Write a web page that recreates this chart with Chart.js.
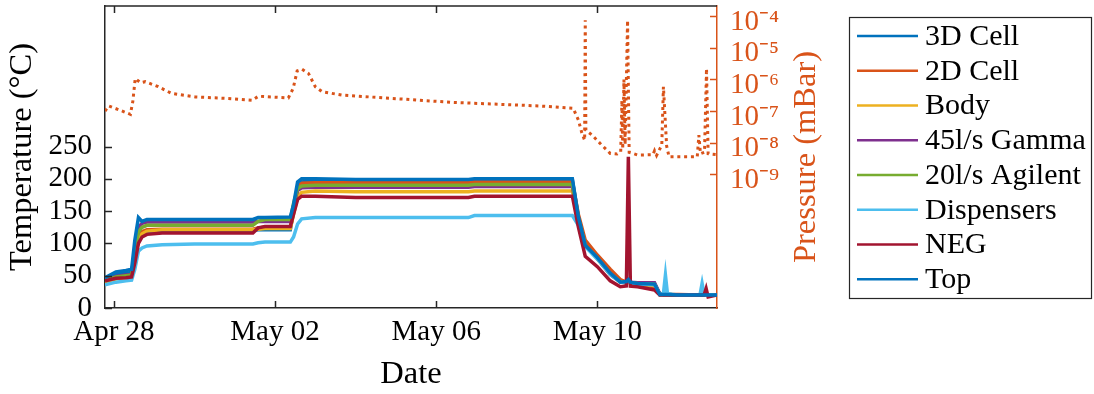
<!DOCTYPE html>
<html><head><meta charset="utf-8">
<script src="https://cdn.jsdelivr.net/npm/chart.js@4/dist/chart.umd.min.js"></script>
<style>html,body{margin:0;padding:0;background:#fff;} #wrap{width:1094px;height:394px;position:relative;}</style>
</head><body><div id="wrap"><canvas id="c" width="1094" height="394"></canvas></div>
<script>
// time in days since Apr 28 00:00
const days = [-0.22, 0.05, 0.30, 0.44, 0.52, 0.61, 0.70, 0.82, 1.20, 2.00,
  3.45, 3.58, 3.75, 4.38, 4.46, 4.56, 4.66, 5.00, 6.00, 7.00,
  8.80, 8.95, 10.00, 11.38, 11.53, 11.70, 12.00, 12.32, 12.57, 12.72,
  12.77, 12.82, 13.00, 13.42, 13.55, 13.64, 13.69, 13.74, 14.00, 14.55,
  14.60, 14.65, 14.70, 14.75, 14.97];

const cell3D    = [45,52,54,55,85,115,118,119,120,120, 120,121,121,121,150,185,195,197,197,197, 197,198,198,198,140,96,77,53,41,40, 42,39,38,37,22,21,21,21,20,20, 20,20,20,20,20];
const cell2D    = [42,47,49,50,80,110,118,121,122,122, 122,124,125,125,150,185,193,194,194,194, 194,195,195,195,145,105,82,60,44,40, 41,39,37,33,21,21,21,21,21,20, 20,20,20,20,20];
const body      = [40,45,47,48,75,105,115,119,121,121, 121,122,123,123,145,172,179,181,180,180, 180,181,181,181,138,97,76,52,40,39, 40,38,37,35,21,21,21,21,20,20, 20,20,20,20,20];
const gamma45   = [43,49,51,52,90,125,131,133,133,133, 133,134,134,134,158,182,186,187,187,187, 187,188,188,188,140,97,77,52,41,40, 42,40,39,39,22,21,21,21,20,20, 20,20,20,20,20];
const agilent20 = [42,48,50,51,85,118,125,128,128,128, 128,134,137,137,162,185,189,190,190,190, 190,191,191,191,140,97,77,53,41,40, 41,39,38,37,21,21,21,21,20,20, 20,20,20,20,20];
const dispensers= [36,40,42,43,60,88,93,96,98,99, 99,101,102,102,110,130,138,140,140,140, 140,143,143,143,128,95,76,52,40,39, 42,39,37,36,21,22,51,22,20,21, 38,21,20,20,20];
const neg       = [42,46,47,48,70,100,110,114,116,116, 116,124,126,126,145,168,173,173,171,171, 171,173,173,173,125,80,64,42,33,34, 234,34,33,28,20,20,20,20,20,20, 20,20,30,17,20];
const topSensor = [47,56,58,60,105,140,134,137,137,137, 137,140,140,141,160,195,200,200,199,199, 199,200,200,200,141,97,78,54,40,41, 44,40,38,37,21,21,21,21,20,20, 20,20,20,20,20];

const pDays = [-0.22,-0.13,0.11,0.41,0.47,0.53,0.66,0.78,1.10,1.44,
  2.02,2.84,3.43,3.59,4.33,4.45,4.55,4.67,4.83,5.00,
  5.17,5.66,8.35,10.58,11.40,11.53,11.62,11.685,11.70,11.715,
  11.87,12.07,12.32,12.49,12.58,12.61,12.63,12.66,12.69,12.75,
  12.79,13.00,13.38,13.42,13.47,13.60,13.64,13.72,13.78,14.48,
  14.52,14.56,14.66,14.71,14.75,14.97];
const pressure = [1.0e-7,1.45e-7,1.12e-7,7.9e-8,2.0e-7,1.07e-6,7.9e-7,8.5e-7,5.9e-7,3.6e-7,
  2.8e-7,2.5e-7,2.2e-7,2.95e-7,2.6e-7,5.2e-7,1.86e-6,2.1e-6,1.55e-6,5.9e-7,
  4.1e-7,3.2e-7,1.9e-7,1.45e-7,1.23e-7,5.2e-8,1.95e-8,1.2e-8,7.4e-5,2.5e-8,
  1.74e-8,9.5e-9,4.6e-9,4.4e-9,5.2e-9,2.2e-7,6.3e-9,1.0e-6,8.9e-9,7.4e-5,
  5.0e-9,4.1e-9,4.2e-9,5.6e-9,4.0e-9,8.5e-9,5.9e-7,7.9e-9,3.6e-9,3.6e-9,
  1.74e-8,4.5e-9,5.0e-9,2.2e-6,4.5e-9,4.2e-9];

const xTickDays = [0, 4, 8, 12];
const xTickLabels = ['Apr 28', 'May 02', 'May 06', 'May 10'];
const tempTicks = [0, 50, 100, 150, 200, 250];
const pressureTicks = [1e-9, 1e-8, 1e-7, 1e-6, 1e-5, 1e-4];
const seriesNames = ['3D Cell', '2D Cell', 'Body', '45l/s Gamma', '20l/s Agilent', 'Dispensers', 'NEG', 'Top'];
const seriesValues = [cell3D, cell2D, body, gamma45, agilent20, dispensers, neg, topSensor];
const seriesColors = ['#0072BD', '#D95319', '#EDB120', '#7E2F8E', '#77AC30', '#4DBEEE', '#A2142F', '#0072BD'];
const pressureColor = '#D95319';
const axisColor = '#262626';

const SUP = {'-':'\u207B','0':'\u2070','1':'\u00B9','2':'\u00B2','3':'\u00B3','4':'\u2074','5':'\u2075','6':'\u2076','7':'\u2077','8':'\u2078','9':'\u2079'};
function sup(n){ return String(n).split('').map(c => SUP[c]).join(''); }

const FONT = "'Liberation Serif', 'Times New Roman', Times, serif";
Chart.defaults.font.family = FONT;
Chart.defaults.font.size = 29;
Chart.defaults.color = '#000';

const datasets = seriesNames.map((name, i) => ({
  label: name,
  data: days.map((d, k) => ({x: d, y: seriesValues[i][k]})),
  borderColor: seriesColors[i],
  backgroundColor: seriesColors[i],
  borderWidth: 3.5,
  pointRadius: 0,
  tension: 0,
  yAxisID: 'y',
  order: 10 - i
}));
datasets.push({
  label: 'Pressure',
  data: pDays.map((d, k) => ({x: d, y: pressure[k]})),
  borderColor: pressureColor,
  borderWidth: 3,
  borderDash: [3, 3.8],
  pointRadius: 0,
  tension: 0,
  yAxisID: 'yP',
  order: 0
});

const decor = {
  id: 'decor',
  afterDraw(chart) {
    const {ctx, chartArea: a, scales} = chart;
    ctx.save();
    const L = 7;
    ctx.strokeStyle = axisColor; ctx.lineWidth = 1.5;
    ctx.beginPath();
    ctx.moveTo(a.left, a.top); ctx.lineTo(a.right, a.top);
    scales.x.ticks.forEach(t => {
      const px = Math.round(scales.x.getPixelForValue(t.value)) + 0.5;
      ctx.moveTo(px, a.bottom); ctx.lineTo(px, a.bottom - L);
      ctx.moveTo(px, a.top); ctx.lineTo(px, a.top + L);
    });
    scales.y.ticks.forEach(t => {
      const py = Math.round(scales.y.getPixelForValue(t.value)) + 0.5;
      ctx.moveTo(a.left, py); ctx.lineTo(a.left + L, py);
    });
    ctx.stroke();
    ctx.strokeStyle = pressureColor;
    ctx.beginPath();
    scales.yP.ticks.forEach(t => {
      const py = Math.round(scales.yP.getPixelForValue(t.value)) + 0.5;
      ctx.moveTo(a.right, py); ctx.lineTo(a.right - L, py);
    });
    ctx.stroke();

    ctx.save();
    ctx.translate(815, (a.top + a.bottom) / 2);
    ctx.rotate(-Math.PI / 2);
    ctx.font = '32.5px ' + FONT;
    ctx.fillStyle = pressureColor;
    ctx.textAlign = 'center';
    ctx.textBaseline = 'alphabetic';
    ctx.fillText('Pressure (mBar)', 0, 0);
    ctx.restore();

    const lx = 849.5, ly = 17.5, lw = 242, lh = 281;
    ctx.fillStyle = '#fff';
    ctx.fillRect(lx, ly, lw, lh);
    ctx.strokeStyle = axisColor; ctx.lineWidth = 1.2;
    ctx.strokeRect(lx, ly, lw, lh);
    ctx.font = '30px ' + FONT;
    ctx.textAlign = 'left';
    ctx.textBaseline = 'middle';
    seriesNames.forEach((name, i) => {
      const cy = 36 + i * 34.75;
      ctx.strokeStyle = seriesColors[i]; ctx.lineWidth = 2.7;
      ctx.beginPath(); ctx.moveTo(857, cy); ctx.lineTo(918, cy); ctx.stroke();
      ctx.fillStyle = '#000';
      ctx.fillText(name, 925, cy + 1);
    });
    ctx.restore();
  }
};

function noPad(s) { s.paddingTop = 0; s.paddingBottom = 0; s.paddingLeft = 0; s.paddingRight = 0; }

new Chart(document.getElementById('c'), {
  type: 'line',
  data: {datasets},
  plugins: [decor],
  options: {
    responsive: false,
    animation: false,
    events: [],
    layout: {padding: {top: 6, right: 262, bottom: 0, left: 0}},
    plugins: {legend: {display: false}, tooltip: {enabled: false}},
    scales: {
      x: {
        type: 'linear',
        min: -0.22, max: 14.97,
        afterBuildTicks(axis) { axis.ticks = xTickDays.map(v => ({value: v})); },
        afterFit(s) { s.height = 86; noPad(s); },
        grid: {display: false, drawTicks: false},
        border: {display: true, color: axisColor, width: 1.5},
        ticks: {
          autoSkip: false, maxRotation: 0, padding: 7, color: '#000',
          callback: (v) => xTickLabels[xTickDays.indexOf(v)]
        },
        title: {display: true, text: 'Date', font: {size: 32.5}, color: '#000', padding: {top: 0, bottom: 0}}
      },
      y: {
        type: 'linear', position: 'left',
        min: 0, max: 467.5,
        afterBuildTicks(axis) { axis.ticks = tempTicks.map(v => ({value: v})); },
        afterFit(s) { s.width = 105; noPad(s); },
        grid: {display: false, drawTicks: false},
        border: {display: true, color: axisColor, width: 1.5},
        ticks: {padding: 13, color: '#000'},
        title: {display: true, text: 'Temperature (°C)', font: {size: 32.5}, color: '#000', padding: {top: 3, bottom: 0}}
      },
      yP: {
        type: 'logarithmic', position: 'right',
        min: Math.pow(10, -13.22), max: Math.pow(10, -3.68),
        afterBuildTicks(axis) { axis.ticks = pressureTicks.map(v => ({value: v})); },
        afterFit(s) { s.width = 115; noPad(s); },
        grid: {display: false, drawTicks: false},
        border: {display: true, color: pressureColor, width: 1.5},
        ticks: {
          padding: 13, color: pressureColor, labelOffset: 6,
          callback: (v) => '10' + sup(Math.round(Math.log10(v)))
        }
      }
    }
  }
});
</script>
</body></html>
